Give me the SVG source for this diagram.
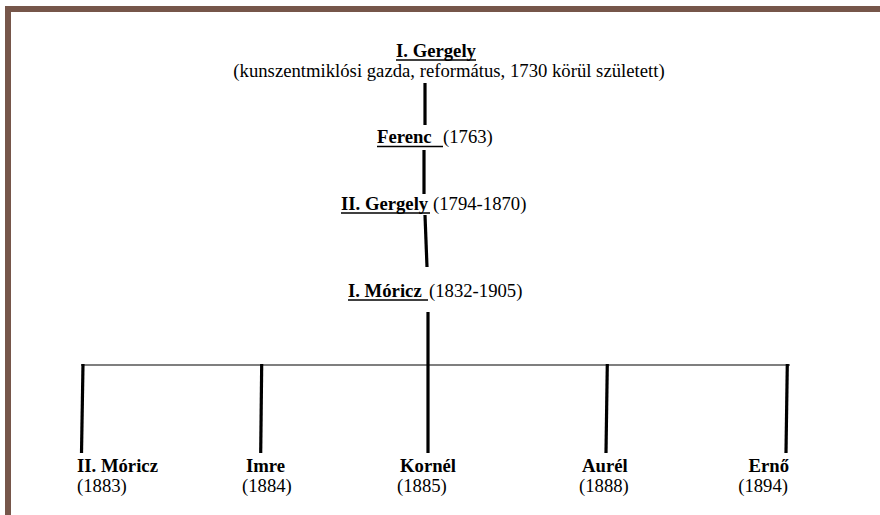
<svg xmlns="http://www.w3.org/2000/svg" width="880" height="515" viewBox="0 0 880 515">
<style>
.ul{stroke:#000;stroke-width:1.4}
.v{stroke:#000;stroke-width:3.2;fill:none}
.h{stroke:#000;stroke-width:1.2}
</style>
<rect x="0" y="0" width="880" height="515" fill="#fff"/>
<g id="frame" fill="#76564a">
<rect x="5" y="6" width="875" height="6"/>
<rect x="5" y="6" width="6" height="509"/>
</g>
<g id="connectors">
<line class="v" x1="425" y1="83" x2="425" y2="125"/>
<line class="v" x1="424" y1="150" x2="424" y2="194"/>
<line class="v" x1="425" y1="215" x2="427" y2="267"/>
<line class="v" x1="428" y1="312" x2="428" y2="453"/>
<line class="h" x1="81" y1="365" x2="790" y2="365"/>
<line class="v" x1="83" y1="364" x2="81.5" y2="453"/>
<line class="v" x1="261.7" y1="364" x2="260.7" y2="453"/>
<line class="v" x1="607.3" y1="364" x2="606" y2="453"/>
<line class="v" x1="787.3" y1="364" x2="786" y2="453"/>
</g>
<g id="gergely1">
<text font-family="Liberation Serif" font-size="18.7" font-weight="bold" x="436" y="57" text-anchor="middle">I. Gergely</text>
<line class="ul" x1="396" y1="60" x2="476" y2="60"/>
<text font-family="Liberation Serif" font-size="18.7" x="449" y="77" text-anchor="middle">(kunszentmikl&#243;si gazda, reform&#225;tus, 1730 k&#246;r&#252;l sz&#252;letett)</text>
</g>
<g id="ferenc">
<text font-family="Liberation Serif" font-size="18.7" font-weight="bold" x="377" y="143">Ferenc</text>
<text font-family="Liberation Serif" font-size="18.7" x="443" y="143">(1763)</text>
<line class="ul" x1="377" y1="146.5" x2="443" y2="146.5"/>
</g>
<g id="gergely2">
<text font-family="Liberation Serif" font-size="18.7" font-weight="bold" x="341" y="210">II. Gergely</text>
<text font-family="Liberation Serif" font-size="18.7" x="433" y="210">(1794-1870)</text>
<line class="ul" x1="341" y1="213" x2="430" y2="213"/>
</g>
<g id="moricz1">
<text font-family="Liberation Serif" font-size="18.7" font-weight="bold" x="348" y="297">I. M&#243;ricz</text>
<text font-family="Liberation Serif" font-size="18.7" x="429" y="297">(1832-1905)</text>
<line class="ul" x1="348" y1="300" x2="428" y2="300"/>
</g>
<g id="moricz2">
<text font-family="Liberation Serif" font-size="18.7" font-weight="bold" x="77" y="472">II. M&#243;ricz</text>
<text font-family="Liberation Serif" font-size="18.7" x="77" y="492">(1883)</text>
</g>
<g id="imre">
<text font-family="Liberation Serif" font-size="18.7" font-weight="bold" x="246" y="472">Imre</text>
<text font-family="Liberation Serif" font-size="18.7" x="242" y="492">(1884)</text>
</g>
<g id="kornel">
<text font-family="Liberation Serif" font-size="18.7" font-weight="bold" x="400" y="472">Korn&#233;l</text>
<text font-family="Liberation Serif" font-size="18.7" x="397" y="492">(1885)</text>
</g>
<g id="aurel">
<text font-family="Liberation Serif" font-size="18.7" font-weight="bold" x="582" y="472">Aur&#233;l</text>
<text font-family="Liberation Serif" font-size="18.7" x="579" y="492">(1888)</text>
</g>
<g id="erno">
<text font-family="Liberation Serif" font-size="18.7" font-weight="bold" x="789" y="472" text-anchor="end">Ern&#337;</text>
<text font-family="Liberation Serif" font-size="18.7" x="788" y="492" text-anchor="end">(1894)</text>
</g>
</svg>
